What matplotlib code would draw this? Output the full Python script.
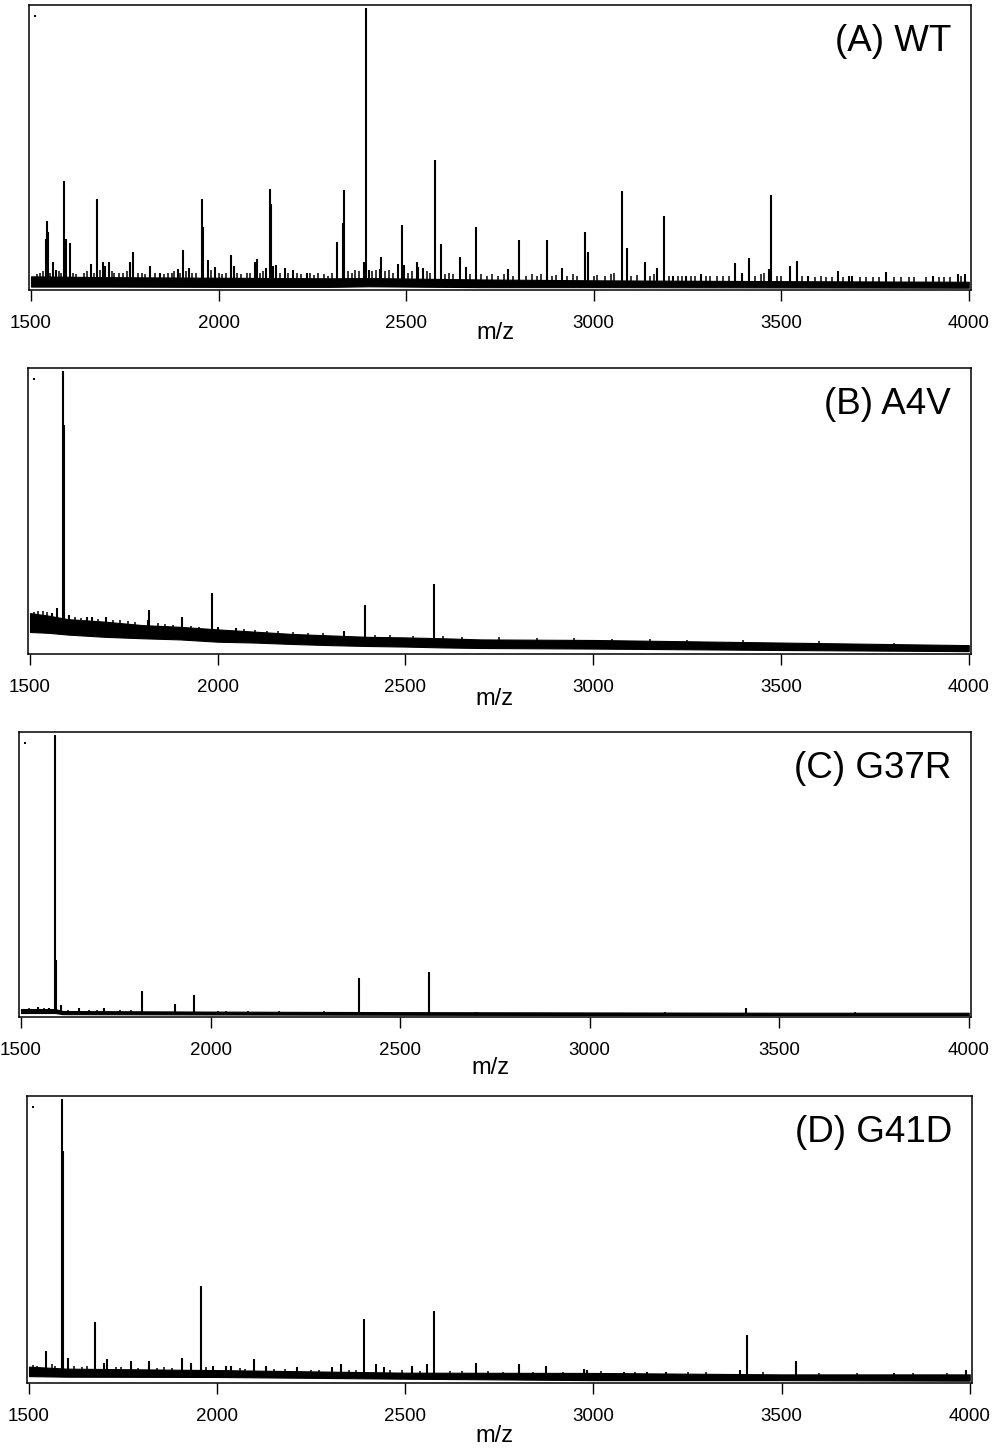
"""Four MALDI spectra (WT and three SOD1 mutants), stacked, m/z 1500-4000."""
import matplotlib
matplotlib.use("Agg")
import matplotlib.pyplot as plt
import numpy as np

plt.rcParams["font.family"] = ["Liberation Sans", "DejaVu Sans"]

W, H = 996, 1452

# ---- data (intensity as fraction of panel height) ----
# (A) WT : resolved peaks
a_mz = [1539, 1543, 1546, 1558, 1568, 1589, 1593, 1604, 1659, 1675, 1691, 1696,
        1707, 1764, 1771, 1818, 1844, 1891, 1905, 1921, 1956, 1959, 1972, 1991,
        2033, 2040, 2097, 2102, 2126, 2136, 2140, 2145, 2153, 2176, 2199, 2235,
        2315, 2331, 2335, 2387, 2392, 2400, 2430, 2434, 2479, 2489, 2495, 2528,
        2533, 2544, 2577, 2592, 2643, 2660, 2687, 2771, 2802, 2875, 2915, 2976,
        2986, 3075, 3088, 3137, 3170, 3188, 3212, 3246, 3286, 3378, 3396, 3414,
        3467, 3472, 3523, 3542, 3571, 3651, 3681, 3690, 3780, 3905, 3971, 3989]
a_int = [0.178, 0.242, 0.205, 0.097, 0.070, 0.382, 0.180, 0.164, 0.090, 0.320,
         0.097, 0.085, 0.097, 0.097, 0.134, 0.085, 0.060, 0.072, 0.140, 0.077,
         0.319, 0.220, 0.105, 0.080, 0.123, 0.085, 0.100, 0.108, 0.076, 0.354,
         0.300, 0.085, 0.088, 0.077, 0.070, 0.060, 0.167, 0.234, 0.350, 0.100,
         0.990, 0.070, 0.075, 0.116, 0.090, 0.229, 0.086, 0.097, 0.080, 0.078,
         0.457, 0.161, 0.117, 0.080, 0.220, 0.074, 0.175, 0.175, 0.078, 0.202,
         0.134, 0.347, 0.146, 0.097, 0.077, 0.260, 0.050, 0.050, 0.055, 0.094,
         0.060, 0.111, 0.075, 0.333, 0.085, 0.102, 0.050, 0.066, 0.050, 0.050,
         0.064, 0.050, 0.057, 0.057]
# (A) WT : small spikes riding on the baseline
a_noise_mz = [1515, 1525, 1532, 1552, 1575, 1580, 1612, 1620, 1640, 1650, 1668,
              1683, 1715, 1722, 1735, 1745, 1755, 1785, 1795, 1805, 1830, 1855,
              1865, 1875, 1882, 1898, 1912, 1930, 1940, 1980, 2000, 2010, 2020,
              2050, 2060, 2075, 2085, 2110, 2118, 2165, 2185, 2210, 2220, 2245,
              2255, 2265, 2280, 2292, 2302, 2345, 2355, 2365, 2375, 2410, 2420,
              2445, 2455, 2465, 2505, 2515, 2555, 2565, 2605, 2615, 2625, 2670,
              2700, 2715, 2730, 2745, 2760, 2785, 2820, 2835, 2850, 2860, 2890,
              2900, 2930, 2945, 2955, 3000, 3010, 3030, 3045, 3055, 3100, 3115,
              3150, 3160, 3200, 3225, 3235, 3260, 3270, 3300, 3310, 3330, 3345,
              3360, 3430, 3445, 3455, 3490, 3500, 3555, 3590, 3605, 3620, 3635,
              3665, 3710, 3725, 3745, 3760, 3800, 3820, 3840, 3855, 3885, 3920,
              3935, 3950, 3980]
a_noise_int = [0.055, 0.060, 0.065, 0.060, 0.065, 0.060, 0.060, 0.055, 0.058, 0.065,
               0.060, 0.070, 0.065, 0.060, 0.058, 0.060, 0.065, 0.060, 0.058, 0.055,
               0.060, 0.055, 0.060, 0.058, 0.065, 0.060, 0.065, 0.060, 0.058, 0.070,
               0.060, 0.055, 0.058, 0.060, 0.055, 0.058, 0.060, 0.060, 0.065, 0.060,
               0.058, 0.060, 0.055, 0.058, 0.052, 0.060, 0.055, 0.050, 0.058, 0.065,
               0.060, 0.070, 0.065, 0.065, 0.070, 0.065, 0.070, 0.060, 0.060, 0.065,
               0.065, 0.060, 0.055, 0.060, 0.055, 0.055, 0.055, 0.050, 0.055, 0.050,
               0.055, 0.050, 0.050, 0.055, 0.050, 0.055, 0.050, 0.052, 0.050, 0.055,
               0.050, 0.050, 0.052, 0.050, 0.055, 0.058, 0.050, 0.052, 0.050, 0.055,
               0.050, 0.048, 0.050, 0.048, 0.050, 0.050, 0.048, 0.050, 0.048, 0.050,
               0.050, 0.055, 0.060, 0.050, 0.048, 0.050, 0.045, 0.048, 0.045, 0.047,
               0.045, 0.045, 0.045, 0.045, 0.045, 0.045, 0.044, 0.046, 0.044, 0.047,
               0.044, 0.045, 0.045, 0.050]
a_base_mz = [1500, 1700, 2000, 2300, 2400, 2700, 3000, 3500, 4000]
a_base_lo = [0.012, 0.012, 0.011, 0.011, 0.013, 0.010, 0.010, 0.009, 0.008]
a_base_hi = [0.048, 0.045, 0.043, 0.041, 0.042, 0.037, 0.034, 0.031, 0.029]

# (B) A4V
b_mz = [1558, 1571, 1589, 1590, 1604, 1651, 1665, 1702, 1814, 1818, 1904, 1985,
        2001, 2048, 2337, 2392, 2576]
b_int = [0.142, 0.160, 0.990, 0.800, 0.136, 0.130, 0.130, 0.130, 0.120, 0.154,
         0.130, 0.214, 0.095, 0.090, 0.080, 0.170, 0.245]
b_noise_mz = [1510, 1520, 1535, 1545, 1620, 1635, 1680, 1720, 1740, 1760, 1780,
              1840, 1860, 1880, 1930, 1950, 2070, 2100, 2130, 2160, 2200, 2240,
              2280, 2420, 2460, 2520, 2600, 2650, 2750, 2850, 2950, 3050, 3150,
              3250, 3400, 3600, 3800]
b_noise_int = [0.148, 0.150, 0.150, 0.148, 0.128, 0.126, 0.124, 0.120, 0.118,
               0.115, 0.113, 0.107, 0.105, 0.103, 0.098, 0.095, 0.087, 0.085,
               0.082, 0.080, 0.077, 0.074, 0.072, 0.068, 0.066, 0.064, 0.062,
               0.060, 0.058, 0.056, 0.055, 0.054, 0.052, 0.050, 0.048, 0.044,
               0.040]
b_base_mz = [1500, 1550, 1600, 1700, 1800, 1900, 2000, 2100, 2200, 2300,
             2400, 2500, 2600, 2700, 3000, 3500, 4000]
b_base_lo = [0.077, 0.074, 0.068, 0.060, 0.055, 0.051, 0.043, 0.040,
             0.035, 0.031, 0.028, 0.026, 0.023, 0.021, 0.019, 0.014, 0.010]
b_base_hi = [0.143, 0.134, 0.122, 0.113, 0.101, 0.095, 0.086, 0.078,
             0.070, 0.065, 0.060, 0.058, 0.055, 0.051, 0.049, 0.040, 0.031]

# (C) G37R
c_mz = [1546, 1574, 1590, 1592, 1606, 1653, 1719, 1819, 1906, 1957, 2392, 2577, 3413]
c_int = [0.036, 0.030, 0.990, 0.200, 0.042, 0.033, 0.030, 0.092, 0.045, 0.077,
         0.136, 0.158, 0.030]
c_noise_mz = [1520, 1560, 1625, 1680, 1700, 1760, 1790, 2020, 2040, 2100, 2180,
              2300, 2700, 3200, 3700]
c_noise_int = [0.030, 0.032, 0.026, 0.025, 0.026, 0.024, 0.024, 0.022, 0.022,
               0.022, 0.021, 0.020, 0.019, 0.018, 0.018]
c_base_mz = [1500, 1590, 1610, 2000, 2500, 3000, 3500, 4000]
c_base_lo = [0.014, 0.014, 0.010, 0.009, 0.008, 0.007, 0.007, 0.007]
c_base_hi = [0.028, 0.028, 0.021, 0.019, 0.017, 0.016, 0.015, 0.015]

# (D) G41D
d_mz = [1544, 1588, 1590, 1603, 1675, 1698, 1706, 1771, 1818, 1906, 1930, 1957,
        1990, 2024, 2036, 2098, 2131, 2212, 2305, 2328, 2391, 2422, 2444, 2517,
        2559, 2576, 2688, 2801, 2874, 2975, 2983, 3080, 3143, 3193, 3389, 3407,
        3537, 3800, 3990]
d_int = [0.113, 0.990, 0.810, 0.086, 0.211, 0.070, 0.083, 0.075, 0.077, 0.086,
         0.070, 0.338, 0.060, 0.060, 0.060, 0.083, 0.060, 0.055, 0.055, 0.065,
         0.223, 0.067, 0.055, 0.060, 0.065, 0.251, 0.070, 0.065, 0.060, 0.050,
         0.045, 0.040, 0.037, 0.037, 0.045, 0.167, 0.077, 0.035, 0.045]
d_noise_mz = [1510, 1522, 1560, 1570, 1620, 1640, 1655, 1730, 1745, 1790, 1840,
              1860, 1880, 1970, 2060, 2075, 2150, 2180, 2250, 2270, 2350, 2370,
              2460, 2490, 2540, 2620, 2650, 2720, 2760, 2840, 2920, 3020, 3110,
              3250, 3300, 3450, 3600, 3700, 3850, 3940]
d_noise_int = [0.062, 0.060, 0.065, 0.060, 0.058, 0.056, 0.060, 0.055, 0.056,
               0.054, 0.052, 0.055, 0.053, 0.056, 0.052, 0.050, 0.050, 0.048,
               0.046, 0.045, 0.047, 0.046, 0.044, 0.045, 0.043, 0.042, 0.041,
               0.041, 0.040, 0.040, 0.040, 0.041, 0.040, 0.039, 0.038, 0.037,
               0.036, 0.036, 0.036, 0.036]
d_base_mz = [1500, 1600, 2000, 2500, 3000, 3500, 4000]
d_base_lo = [0.024, 0.022, 0.021, 0.015, 0.010, 0.010, 0.008]
d_base_hi = [0.057, 0.050, 0.045, 0.036, 0.035, 0.030, 0.030]

labels = ["(A) WT", "(B) A4V", "(C) G37R", "(D) G41D"]
xticks = [1500, 2000, 2500, 3000, 3500, 4000]

# panel boxes in pixels: left, top, right, bottom; and pixel row of the "m/z" label
boxes = [(29, 5, 971, 290), (28, 368, 971, 654), (19, 732, 971, 1017), (27, 1096, 972, 1383)]
xlabel_rows = [333, 699, 1068, 1436]

panels = [
    (a_mz, a_int, a_noise_mz, a_noise_int, a_base_mz, a_base_lo, a_base_hi),
    (b_mz, b_int, b_noise_mz, b_noise_int, b_base_mz, b_base_lo, b_base_hi),
    (c_mz, c_int, c_noise_mz, c_noise_int, c_base_mz, c_base_lo, c_base_hi),
    (d_mz, d_int, d_noise_mz, d_noise_int, d_base_mz, d_base_lo, d_base_hi),
]

fig = plt.figure(figsize=(W / 100, H / 100), dpi=100)

for (mz, inten, nmz, nint, bmz, blo, bhi), label, (l, t, r, b), row in zip(
        panels, labels, boxes, xlabel_rows):
    ax = fig.add_axes([l / W, 1 - b / H, (r - l) / W, (b - t) / H])
    ax.fill_between(bmz, blo, bhi, color="black", lw=0.8)
    # each spike starts from the middle of the baseline band under it
    mid = (np.array(blo) + np.array(bhi)) / 2
    ax.vlines(nmz, np.interp(nmz, bmz, mid), nint, color="black", lw=1.1)
    ax.vlines(mz, np.interp(mz, bmz, mid), inten, color="black", lw=1.5)
    # stray dot in the upper-left corner of each panel
    ax.plot([1510], [0.96], "s", color="black", ms=1.6, mew=0)

    ax.set_xlim(1494.7, 4006)
    ax.set_ylim(0, 1.0)
    ax.set_xticks(xticks)
    ax.set_xticklabels([str(v) for v in xticks], fontsize=13.5)
    ax.set_yticks([])
    ax.tick_params(axis="x", direction="out", length=8, width=1.0, pad=10)
    for s in ax.spines.values():
        s.set_linewidth(1.1)

    ax.text(0.979, 0.935, label, transform=ax.transAxes, ha="right", va="top", fontsize=26.5)
    ax.text(0.495, -(row - b) / (b - t), "m/z", transform=ax.transAxes,
            ha="center", va="center", fontsize=17)

fig.savefig("out.png", dpi=100)
